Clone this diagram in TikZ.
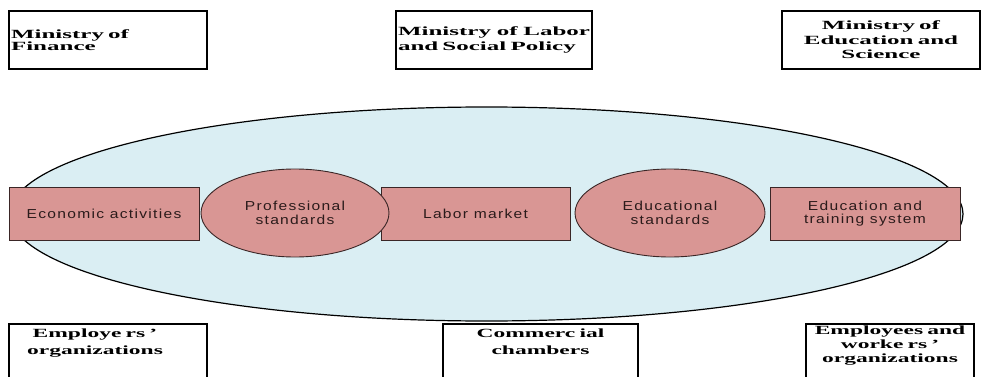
\documentclass[tikz,border=0pt]{standalone}
\usepackage{fontspec}
\usetikzlibrary{shapes.geometric}

\newfontfamily\orgfont[FakeStretch=2.0]{Liberation Serif}
\newfontfamily\lowfont[FakeStretch=1.88]{Liberation Serif}
\newfontfamily\unitfont[FakeStretch=1.2,LetterSpace=10]{Liberation Sans}
\definecolor{fieldblue}{HTML}{DAEEF3}
\definecolor{unitpink}{HTML}{D99694}
\definecolor{unitline}{HTML}{3A2626}
\definecolor{unittext}{HTML}{2B1B1B}

\begin{document}
\begin{tikzpicture}[x=1pt, y=-1pt,
    orgbox/.style={draw, line width=1.6pt, inner xsep=2pt, inner ysep=0pt, minimum height=58pt,
        font=\orgfont\bfseries\fontsize{12.5}{14.5}\selectfont},
    lowbox/.style={draw, line width=1.6pt, anchor=north, inner xsep=2pt, inner ysep=5pt, align=center,
        text depth=50pt, font=\lowfont\bfseries\fontsize{12.5}{17.5}\selectfont},
    flowbox/.style={draw=unitline, line width=0.9pt, fill=unitpink, text=unittext, minimum width=190pt,
        minimum height=53pt, align=center, font=\unitfont\fontsize{13}{13.5}\selectfont},
    stdoval/.style={flowbox, ellipse, inner sep=0pt, minimum width=188pt, minimum height=88pt}]
    \path[use as bounding box, clip] (0,0) rectangle (998,377);

    \node[ellipse, draw, line width=1.2pt, fill=fieldblue, inner sep=0pt,
        minimum width=953pt, minimum height=214pt] (field) at (486.5,214) {};

    \node[orgbox, text width=194pt, align=left] (fin) at (108,40) {Ministry of\\[-2pt]Finance};
    \node[orgbox, text width=192pt, align=left] (lab) at (494,40) {Ministry\hfill of\hfill Labor\\and Social Policy};
    \node[orgbox, text width=194pt, align=center] (edu) at (881,40) {Ministry of\\Education and\\Science};

    \node[flowbox] (eco) at (104,213.5) {Economic activities};
    \node[flowbox, minimum width=189pt] (lm) at (475.5,213.5) {Labor market};
    \node[flowbox] (ets) at (865,213.5) {Education and\\training system};
    \node[stdoval] (prof) at (295,213) {Professional\\standards};
    \node[stdoval, minimum width=190pt] (eds) at (670,213) {Educational\\standards};

    \node[lowbox, text width=194pt] (emp) at (108,323) {Employe rs ’\rule{26pt}{0pt}\\organizations\rule{26pt}{0pt}};
    \node[lowbox, text width=191pt] (com) at (540.5,323) {Commerc ial\\chambers};
    \node[lowbox, inner ysep=2pt, text width=164pt, font=\lowfont\bfseries\fontsize{12.5}{14}\selectfont]
        (wor) at (890,323) {Employees and\\worke rs ’\\organizations};
\end{tikzpicture}
\end{document}
